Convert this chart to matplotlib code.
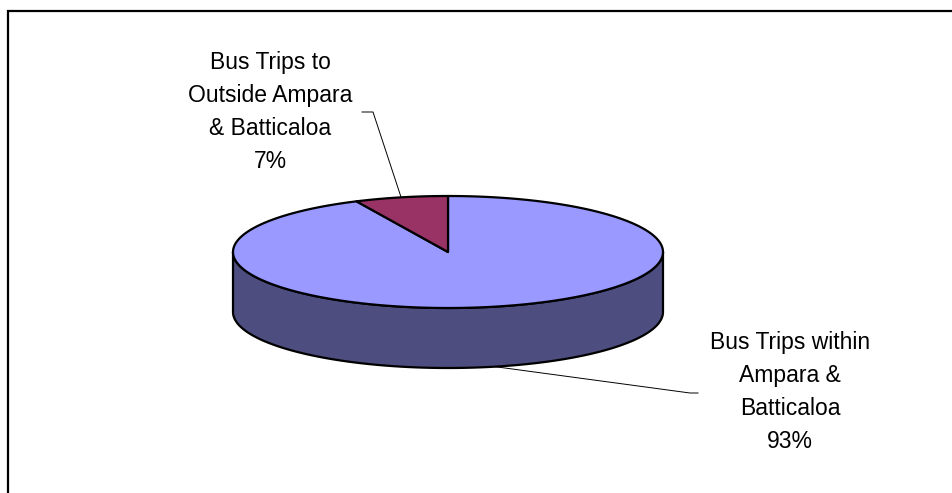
import numpy as np
import matplotlib.pyplot as plt
from matplotlib.patches import Polygon

plt.rcParams['font.family'] = ['Liberation Sans', 'DejaVu Sans']

# share of bus trips (%)
categories = ['Bus Trips within Ampara & Batticaloa',
              'Bus Trips to Outside Ampara & Batticaloa']
label_lines = [['Bus Trips within', 'Ampara &', 'Batticaloa'],
               ['Bus Trips to', 'Outside Ampara', '& Batticaloa']]
values = [93, 7]

top_colors = ['#9999ff', '#993366']
side_colors = ['#4d4d80', '#4d1a33']

# pie geometry in pixel units (y grows downward)
cx, cy = 448, 252
ra, rb = 215, 56
depth = 60


def rim(t, drop=0):
    t = np.radians(t)
    return np.column_stack([cx + ra*np.cos(t), cy - rb*np.sin(t) + drop])


fig = plt.figure(figsize=(9.53, 4.93), dpi=100)
ax = fig.add_axes([0, 0, 1, 1])
ax.set_xlim(0, 953)
ax.set_ylim(493, 0)
ax.axis('off')

# slices run clockwise from 12 o'clock
total = float(sum(values))
spans = []
start = 90.0
for v in values:
    sweep = 360.0*v/total
    spans.append((start - sweep, start))
    start -= sweep

# front wall (only the part facing the viewer: 180..360 deg)
for (t1, t2), col in zip(spans, side_colors):
    lo, hi = t1 % 360, t1 % 360 + (t2 - t1)
    for shift in (-360, 0, 360):
        a1 = max(lo + shift, 180)
        a2 = min(hi + shift, 360)
        if a2 <= a1:
            continue
        t = np.linspace(a1, a2, 200)
        pts = np.vstack([rim(t), rim(t[::-1], depth)])
        ax.add_patch(Polygon(pts, closed=True, facecolor=col,
                             edgecolor='black', linewidth=1.6, joinstyle='round'))

# top faces
for (t1, t2), col in zip(spans, top_colors):
    t = np.linspace(t1, t2, 300)
    pts = np.vstack([[cx, cy], rim(t)])
    ax.add_patch(Polygon(pts, closed=True, facecolor=col,
                         edgecolor='black', linewidth=1.6, joinstyle='round'))

# labels with leader lines
pct = [f'{round(100*v/total):d}%' for v in values]
mid = [(t1 + t2)/2 for t1, t2 in spans]

# within
x0, y0 = rim([mid[0]], depth)[0]
ax.plot([x0, 690, 698], [y0, 393, 393], color='black', linewidth=0.7)
ax.text(790, 392, '\n'.join(label_lines[0] + [pct[0]]), ha='center', va='center',
        fontsize=16.5, linespacing=1.57)

# outside
x1, y1 = rim([mid[1]])[0]
ax.plot([x1, 373, 362], [y1, 112, 112], color='black', linewidth=0.7)
ax.text(270, 112, '\n'.join(label_lines[1] + [pct[1]]), ha='center', va='center',
        fontsize=16.5, linespacing=1.57)

# chart area border (top and left edges)
ax.plot([8, 8, 953], [493, 11, 11], color='black', linewidth=1.6,
        solid_joinstyle='miter')

fig.savefig('out.png', dpi=100)
